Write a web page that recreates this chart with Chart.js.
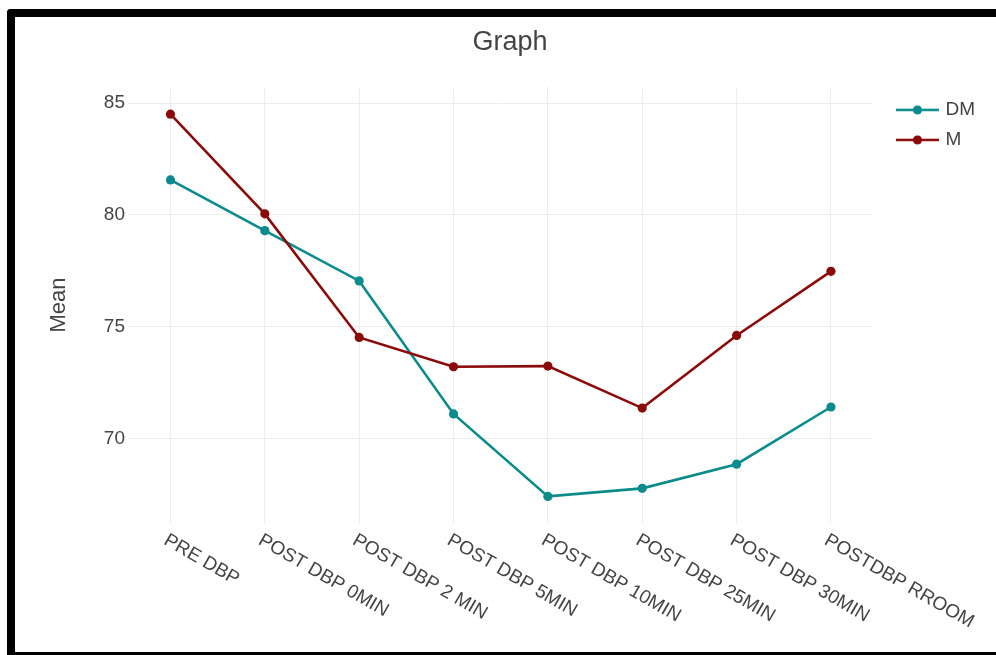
<!DOCTYPE html>
<html>
<head>
<meta charset="utf-8">
<script src="https://cdn.jsdelivr.net/npm/chart.js@4/dist/chart.umd.min.js"></script>
<style>
  html, body { margin: 0; padding: 0; background: #fff; }
  #wrap { position: relative; width: 996px; height: 655px; overflow: hidden; }
  #c { position: absolute; left: 0; top: 0; }
  .bd { position: absolute; background: #000; pointer-events: none; }
</style>
</head>
<body>
<div id="wrap">
  <canvas id="c" width="996" height="655"></canvas>
  <div class="bd" style="left:7px;top:9px;width:8px;height:646px;border-top-left-radius:4px;"></div>
  <div class="bd" style="left:7px;top:9px;width:989px;height:8px;border-top-left-radius:4px;"></div>
  <div class="bd" style="left:7px;top:652px;width:989px;height:3px;"></div>
</div>
<script>
const categories = ['PRE DBP', 'POST DBP 0MIN', 'POST DBP 2 MIN', 'POST DBP 5MIN', 'POST DBP 10MIN', 'POST DBP 25MIN', 'POST DBP 30MIN', 'POSTDBP RROOM'];
const dmValues = [81.57, 79.30, 77.05, 71.10, 67.41, 67.77, 68.85, 71.41];
const mValues  = [84.51, 80.05, 74.52, 73.21, 73.24, 71.36, 74.61, 77.48];
const yTickValues = [70, 75, 80, 85];
const seriesNames = ['DM', 'M'];
const chartTitle = 'Graph';
const yTitle = 'Mean';

const FONT = '"Liberation Sans", Arial, Helvetica, sans-serif';
const TEXT = '#444444';
const GRID = '#ededed';
const DM_COLOR = '#0b8b8b';
const M_COLOR = '#8b0a0a';
const seriesColors = [DM_COLOR, M_COLOR];

function legendIcon(color) {
  const cv = document.createElement('canvas');
  cv.width = 60; cv.height = 12;
  const g = cv.getContext('2d');
  g.strokeStyle = color; g.lineWidth = 2.6;
  g.beginPath(); g.moveTo(16, 6); g.lineTo(59, 6); g.stroke();
  g.fillStyle = color;
  g.beginPath(); g.arc(37.5, 6, 4.6, 0, Math.PI * 2); g.fill();
  return cv;
}
const legendIcons = seriesColors.map(legendIcon);

const xLabelPlugin = {
  id: 'xLabels',
  afterDraw(chart) {
    const ctx = chart.ctx;
    const xs = chart.scales.x;
    const area = chart.chartArea;
    ctx.save();
    ctx.font = '19px ' + FONT;
    ctx.fillStyle = TEXT;
    ctx.textAlign = 'left';
    ctx.textBaseline = 'middle';
    categories.forEach((lab, i) => {
      const px = xs.getPixelForValue(i);
      ctx.save();
      ctx.translate(px - 5, area.bottom + 16);
      ctx.rotate(Math.PI / 6);
      ctx.fillText(lab, 0, 0);
      ctx.restore();
    });
    ctx.restore();
  }
};

const toPts = arr => arr.map((v, i) => ({ x: i, y: v }));

new Chart(document.getElementById('c'), {
  type: 'line',
  data: {
    datasets: [
      {
        label: seriesNames[0], data: toPts(dmValues), order: 2,
        borderColor: DM_COLOR, backgroundColor: DM_COLOR, borderWidth: 2.6,
        pointRadius: 4.6, pointBorderWidth: 0, pointBackgroundColor: DM_COLOR,
        pointStyle: 'circle', tension: 0, clip: false
      },
      {
        label: seriesNames[1], data: toPts(mValues), order: 1,
        borderColor: M_COLOR, backgroundColor: M_COLOR, borderWidth: 2.6,
        pointRadius: 4.6, pointBorderWidth: 0, pointBackgroundColor: M_COLOR,
        pointStyle: 'circle', tension: 0, clip: false
      }
    ]
  },
  options: {
    responsive: false,
    animation: false,
    layout: { padding: { left: 35, right: 11, top: 0, bottom: 0 } },
    plugins: {
      title: {
        display: true, text: chartTitle, color: TEXT,
        font: { family: FONT, size: 27, weight: 'normal', lineHeight: 1.2 },
        padding: { top: 26, bottom: 28.5 }
      },
      legend: {
        position: 'right', align: 'start', fullSize: false,
        title: { display: true, text: ' ', font: { size: 2.5, lineHeight: 1 }, padding: 0 },
        labels: {
          usePointStyle: true, pointStyleWidth: 52, padding: 11, color: TEXT,
          font: { family: FONT, size: 19 },
          generateLabels(chart) {
            return chart.data.datasets.map((ds, i) => ({
              text: ds.label, datasetIndex: i, fontColor: TEXT,
              pointStyle: legendIcons[i], fillStyle: ds.borderColor,
              strokeStyle: ds.borderColor, lineWidth: 0, hidden: false
            }));
          }
        }
      },
      tooltip: { enabled: false }
    },
    scales: {
      x: {
        type: 'linear', min: -0.45, max: 7.445,
        afterBuildTicks: s => { s.ticks = categories.map((c, i) => ({ value: i })); },
        afterFit: s => { s.height = 132; },
        ticks: { display: false },
        grid: { color: GRID, lineWidth: 1, drawTicks: false },
        border: { display: false }
      },
      y: {
        min: 66.22, max: 85.73,
        afterBuildTicks: s => { s.ticks = yTickValues.map(v => ({ value: v })); },
        afterFit: s => { s.width = 93; },
        ticks: { color: TEXT, padding: 3, font: { family: FONT, size: 19 } },
        grid: { color: GRID, lineWidth: 1, drawTicks: false },
        border: { display: false },
        title: {
          display: true, text: yTitle, color: TEXT,
          font: { family: FONT, size: 22 }, padding: { top: 10.8, bottom: 0 }
        }
      }
    }
  },
  plugins: [xLabelPlugin]
});
</script>
</body>
</html>
